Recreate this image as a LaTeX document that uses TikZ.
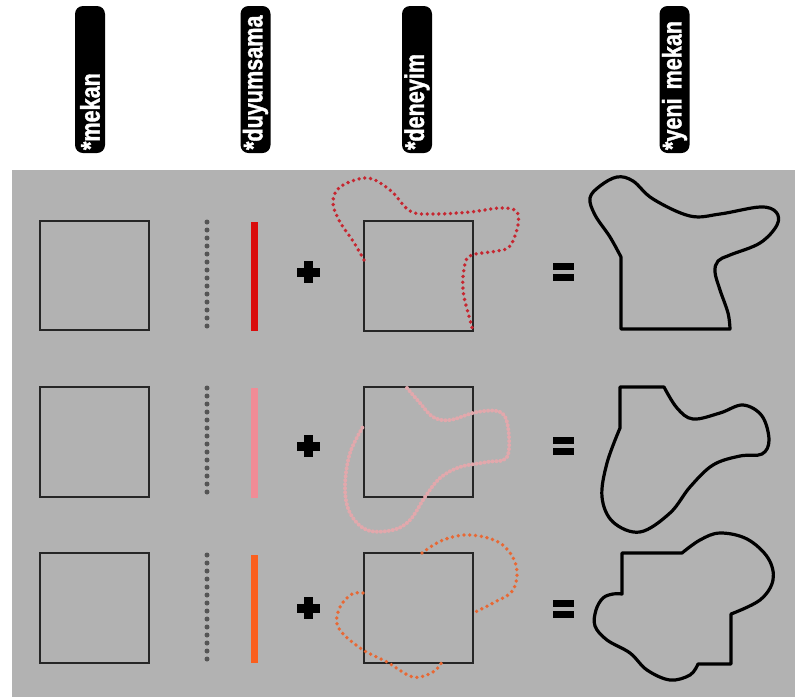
\documentclass[tikz,border=0pt]{standalone}
\usepackage{fontspec}
\setmainfont{Liberation Sans}
\newfontfamily\hdrfont[FakeStretch=0.8, FakeBold=1.3]{Liberation Sans}
\definecolor{bggray}{RGB}{178,178,178}
\definecolor{barred}{RGB}{218,12,12}
\definecolor{dotred}{RGB}{198,38,48}
\definecolor{barpink}{RGB}{240,140,150}
\definecolor{dotpink}{RGB}{226,168,172}
\definecolor{barorange}{RGB}{250,95,30}
\definecolor{dotorange}{RGB}{232,104,52}
\definecolor{dotgray}{RGB}{85,85,85}
\begin{document}
\begin{tikzpicture}[x=1pt,y=-1pt,
  hdr/.style={fill=black, text=white, rounded corners=8pt, rotate=90,
    minimum height=30pt, text width=141pt, inner xsep=3pt, inner ysep=0pt,
    align=left, font=\hdrfont\fontsize{27}{27}\selectfont\bfseries},
  sq/.style={draw=black!85, line width=1.8pt},
  gdots/.style={draw=dotgray, line width=5pt, line cap=round, dash pattern=on 0pt off 8pt},
  curvedots/.style={line width=3.8pt, line cap=round, dash pattern=on 0pt off 5.8pt},
  newshape/.style={draw=black, line width=3.2pt, line join=round},
  plussign/.style={fill=black},
]
\useasboundingbox (0,0) rectangle (795,697);
\fill[white] (0,0) rectangle (795,697);
\fill[bggray] (12,170) rectangle (795,697);

% headers
\node[hdr] (h1) at (90,79.5) {*mekan};
\node[hdr] (h2) at (255.5,79.5) {*duyumsama};
\node[hdr] (h3) at (417,79.5) {*deneyim};
\node[hdr] (h4) at (674.5,79.5) {*yeni mekan};

% ---------- row 1
\draw[sq] (40,221) rectangle (149,330);
\draw[gdots] (207,222) -- (207,326.5);
\fill[barred] (250.5,222) rectangle (258,331);
\fill[plussign] (296.5,267.5) rectangle (319.5,276.5);
\fill[plussign] (303.5,261) rectangle (312.5,283);
\draw[sq] (364,221) rectangle (473,331);
\draw[curvedots, draw=dotred] plot[smooth, tension=0.6] coordinates {(364,260) (353,241) (340,222) (333,203) (340,187) (367,178) (390,190) (410,211) (433,214) (470,212) (500,208) (516,211) (518,225) (510,246) (497,251) (472,255) (465,264) (463,290) (470,320) (473,330)};
\fill[black] (553,263) rectangle (574,270);
\fill[black] (553,274) rectangle (574,281);
\draw[newshape] (730,329) -- (621,329) -- (621,257) -- plot[smooth, tension=0.6] coordinates {(621,257) (610,237) (595,215) (590,198) (600,186) (617,177) (633,181) (653,199) (690,216) (720,214) (760,207) (776,212) (777,225) (760,243) (730,255) (718,261) (715,272) (720,290) (728,313) (730,329)} -- cycle;

% ---------- row 2
\draw[sq] (40,387) rectangle (149,497);
\draw[gdots] (207,388) -- (207,492);
\fill[barpink] (250.5,388) rectangle (258,498);
\fill[plussign] (296.5,441.5) rectangle (319.5,450.5);
\fill[plussign] (303.5,435) rectangle (312.5,457);
\draw[sq] (364,387) rectangle (473,497);
\draw[line width=4pt, line cap=round, draw=dotpink, dash pattern=on 0pt off 4pt] plot[smooth, tension=0.6] coordinates {(407,388) (420,403) (433,417) (450,420) (477,412) (500,412) (508,427) (507,457) (487,462) (460,467) (440,478) (425,497) (410,520) (393,530) (367,530) (350,513) (345,487) (350,453) (364,425)};
\fill[black] (553,437) rectangle (574,444);
\fill[black] (553,448) rectangle (574,455);
\draw[newshape] (620,387) -- (664,387) -- plot[smooth, tension=0.6] coordinates {(664,387) (677,408) (693,419) (720,413) (743,405) (762,416) (769,440) (762,454) (740,456) (713,465) (690,487) (670,513) (640,532) (613,522) (602,497) (607,463) (620,428)} -- cycle;

% ---------- row 3
\draw[sq] (40,553) rectangle (149,663);
\draw[gdots] (207,555) -- (207,663);
\fill[barorange] (250.5,555) rectangle (258,663);
\fill[plussign] (296.5,603.5) rectangle (319.5,612.5);
\fill[plussign] (303.5,597) rectangle (312.5,619);
\draw[sq] (364,553) rectangle (473,663);
\draw[curvedots, draw=dotorange] plot[smooth, tension=0.6] coordinates {(422,553) (443,540) (470,535) (500,543) (516,565) (513,590) (493,603) (473,613)};
\draw[curvedots, draw=dotorange] plot[smooth, tension=0.6] coordinates {(363,593) (352,594) (340,607) (338,627) (360,648) (387,662) (413,677) (433,672) (442,662)};
\fill[black] (553,600) rectangle (574,607);
\fill[black] (553,611) rectangle (574,618);
\draw[newshape] (622,594) -- (622,553) -- (682,553) -- plot[smooth, tension=0.6] coordinates {(682,553) (700,540) (720,533) (747,539) (768,558) (773,580) (760,600) (731,614)} -- (731,664) -- (698,664) -- plot[smooth, tension=0.6] coordinates {(698,664) (690,675) (670,680) (647,670) (630,653) (607,640) (595,626) (596,610) (603,598) (613,594) (622,594)} -- cycle;
\end{tikzpicture}
\end{document}
